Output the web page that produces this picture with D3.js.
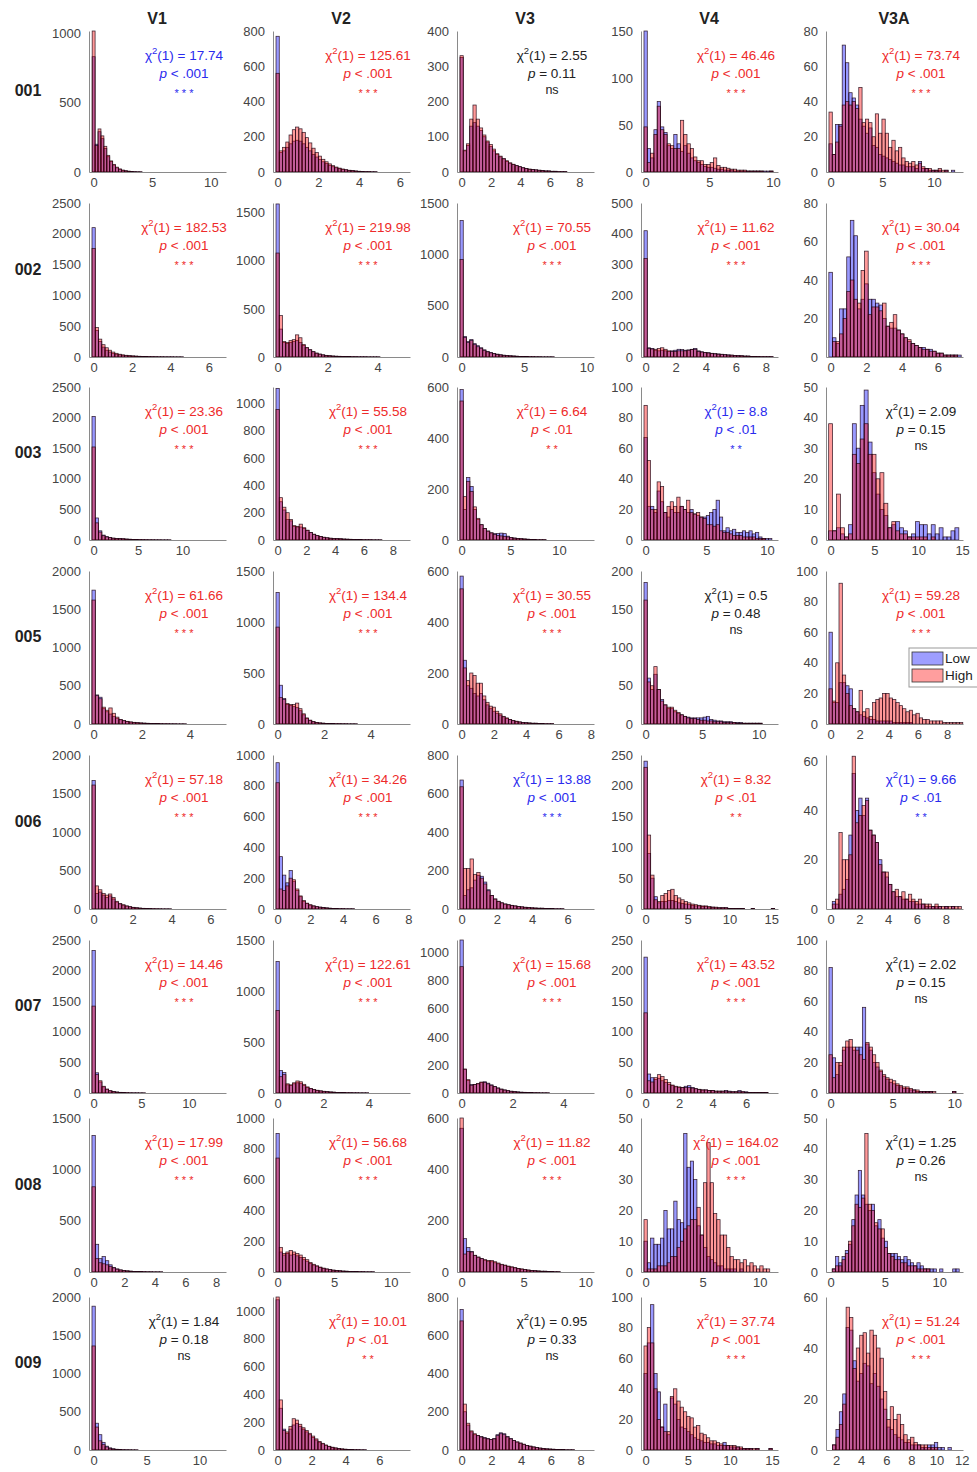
<!DOCTYPE html>
<html><head><meta charset="utf-8">
<script src="https://cdn.jsdelivr.net/npm/d3@7"></script>
<style>body{margin:0;background:#fff} text{font-family:"Liberation Sans",Arial,Helvetica,sans-serif}</style>
</head><body><svg id="c" width="977" height="1472"></svg>
<script>
const subjects = ["001","002","003","005","006","007","008","009"];
const regions = ["V1","V2","V3","V4","V3A"];

// histogram settings per subject (rows) x region (cols)
const binWidth = [
 [.25,.16,.22,.26,.32],[.17,.13,.26,.22,.2],[.37,.23,.34,.27,.45],[.14,.14,.2,.29,.23],
 [.17,.2,.19,.4,.23],[.35,.145,.13,.2,.27],[.22,.29,.27,.29,.3],[.31,.19,.22,.39,.27]];
const binStart = [
 [null,null,null,null,null],[null,null,null,null,null],[null,null,null,null,null],[null,null,null,null,null],
 [null,null,null,null,null],[null,null,null,null,null],[null,null,null,null,null],[null,null,null,null,1.72]];
const xMin = [
 [null,null,null,null,null],[null,null,null,null,null],[null,null,null,null,null],[null,null,null,null,null],
 [null,null,null,null,null],[null,null,null,null,null],[null,null,null,null,null],[null,null,null,null,1.2]];
const xMax = [
 [11.3,6.5,9.0,10.4,12.8],[6.9,5.3,10.6,8.8,7.4],[14.9,9.2,13.6,10.9,15.1],[5.5,5.7,8.2,11.7,9.1],
 [6.8,8.1,7.5,15.8,9.2],[13.9,5.8,5.2,7.9,10.7],[8.65,11.7,10.7,11.6,12.2],[12.5,7.8,8.9,15.7,12.1]];
const xStep = [[5,2,2,5,5],[2,2,5,2,2],[5,2,5,5,5],[2,2,2,5,2],[2,2,2,5,2],[5,2,2,2,5],[2,5,5,5,5],[5,2,2,5,2]];
const yMax = [
 [1015,800,400,150,80],[2500,1600,1500,500,80],[2500,1120,600,100,50],[2000,1500,600,200,100],
 [2000,1000,800,250,62.5],[2500,1500,1090,250,100],[1500,1000,600,50,50],[2000,1100,800,100,60]];
const yStep = [[500,200,100,50,20],[500,500,500,100,20],[500,200,200,20,10],[500,500,200,50,20],
 [500,200,200,50,20],[500,500,200,50,20],[500,200,200,10,10],[500,200,200,20,20]];

// statistics
const chi2 = [
 [17.74,125.61,2.55,46.46,73.74],[182.53,219.98,70.55,11.62,30.04],[23.36,55.58,6.64,8.8,2.09],
 [61.66,134.4,30.55,0.5,59.28],[57.18,34.26,13.88,8.32,9.66],[14.46,122.61,15.68,43.52,2.02],
 [17.99,56.68,11.82,164.02,1.25],[1.84,10.01,0.95,37.74,51.24]];
const pLabel = [
 ["< .001","< .001","= 0.11","< .001","< .001"],["< .001","< .001","< .001","< .001","< .001"],
 ["< .001","< .001","< .01","< .01","= 0.15"],["< .001","< .001","< .001","= 0.48","< .001"],
 ["< .001","< .001","< .001","< .01","< .01"],["< .001","< .001","< .001","< .001","= 0.15"],
 ["< .001","< .001","< .001","< .001","= 0.26"],["= 0.18","< .01","= 0.33","< .001","< .001"]];
const sigLabel = [
 ["***","***","ns","***","***"],["***","***","***","***","***"],["***","***","**","**","ns"],
 ["***","***","***","ns","***"],["***","***","***","**","**"],["***","***","***","***","ns"],
 ["***","***","***","***","ns"],["ns","**","ns","***","***"]];
// which condition dominates: L = Low, H = High, n = not significant
const direction = [
 ["L","H","n","H","H"],["H","H","H","H","H"],["H","H","H","L","n"],["H","H","H","n","H"],
 ["H","H","L","H","L"],["H","H","H","H","n"],["H","H","H","H","n"],["n","H","n","H","H"]];

// bin counts, Low condition
const low001 = [
 [830,200,290,240,170,110,75,50,30,20,12,8,5,3,2,1,1],
 [770,110,120,140,160,175,180,175,160,140,120,100,85,70,58,48,38,30,24,19,15,12,9,7,5,4,3,2,2,1,1],
 [325,60,75,130,140,130,118,100,85,72,60,50,43,37,30,25,21,18,15,12,10,8,7,6,5,4,3,3,2,2,1,1,1],
 [150,25,15,45,75,48,42,28,25,40,30,22,28,20,15,12,10,8,6,5,5,4,3,3,2,2,2,1,1,1,1,1,1,1,1,1,1,1,1],
 [16,10,27,27,72,62,45,42,38,30,26,22,25,15,14,10,9,8,7,6,5,4,4,3,3,3,2,6,2,2,1,1,1,1,0,1,0,1,0]];
const low002 = [
 [2100,430,250,160,110,80,60,45,35,28,22,18,15,12,10,8,7,6,5,4,3,3,2,2,2,1,1,1],
 [1590,290,150,140,150,160,170,150,120,95,75,55,40,30,22,17,13,10,8,7,6,5,4,3,3,2,2,2,1,1,1,1],
 [1330,200,150,170,130,110,90,70,55,45,35,28,22,18,15,12,10,8,6,5,4,3,3,2,2,1,1,1,1],
 [410,30,28,22,20,22,20,18,20,22,25,24,22,23,25,28,20,17,15,14,12,11,10,9,8,7,6,5,5,4,3,3,2,2,2,1,1,1,1],
 [44,10,7,25,25,52,71,63,25,30,38,30,30,28,27,20,16,15,15,14,12,10,8,7,6,5,5,4,4,3,2,2,1,1,1,1,1]];
const low003 = [
 [2020,360,150,80,55,40,30,25,25,20,15,12,10,8,6,5,4,3,3,2,2,1,1,1],
 [1110,280,220,150,140,100,95,95,85,70,55,42,32,25,20,16,13,11,10,9,7,6,5,4,3,3,2,2,2,1,1,1],
 [590,120,245,210,120,80,60,45,35,28,25,25,27,25,15,10,8,6,5,4,3,2,2,1,1,1],
 [67,22,22,18,32,25,18,15,20,18,18,22,20,18,20,17,16,15,15,16,18,20,26,15,6,8,6,7,5,5,6,5,6,4,5,2,1,1,1],
 [3,3,4,2,1,5,38,30,44,49,32,22,15,10,8,4,5,6,4,3,1,2,6,5,5,2,5,2,4,1,1,3,4]];
const low005 = [
 [1750,380,350,200,160,130,100,75,55,42,32,25,20,16,13,11,9,7,6,5,4,3,3,2,2,1,1,1],
 [1290,380,250,190,180,170,160,130,90,55,35,22,15,10,8,6,5,4,3,3,2,2,1,1,1],
 [580,250,150,140,120,110,120,95,75,60,50,42,35,28,22,17,13,10,8,6,5,4,3,3,2,2,1,1,1],
 [185,60,45,65,45,32,25,20,20,16,14,12,10,9,8,8,8,8,9,10,6,5,4,4,3,3,3,2,2,2,1,1,1,1,1,1],
 [60,14,14,27,27,25,23,10,8,6,5,4,3,3,2,2,2,2,2,1,1,1,1,1,1]];
const low006 = [
 [1670,200,220,180,150,170,130,90,65,50,38,28,20,15,11,8,6,4,3,2,2,1,1,1],
 [950,340,220,170,250,180,120,80,50,35,25,20,15,12,9,7,5,4,3,2,2,1,1,1],
 [670,70,100,110,150,175,170,140,100,70,52,40,32,26,22,19,16,13,11,9,8,6,5,4,4,3,2,2,1,1,1],
 [240,90,50,20,10,12,12,14,14,12,10,9,8,7,6,5,5,4,4,3,3,2,2,2,2,1,1,1,1,1,0,0,1,0,0,0,0,0,1],
 [0,3,2,6,8,12,30,55,40,45,38,45,32,30,27,20,15,13,10,7,5,5,4,4,3,3,2,2,2,1,1,1,1,1,0,1,0,1,0,0]];
const low007 = [
 [2330,330,180,100,60,35,22,15,10,7,5,3,2,2,1,1],
 [1290,220,200,80,75,90,100,95,75,55,42,32,25,20,16,13,10,8,6,5,4,3,3,2,2,1,1,1],
 [1090,170,90,60,60,65,75,80,70,58,46,36,28,22,17,13,10,8,6,5,4,3,2,2,1,1,1],
 [222,31,25,22,24,20,17,14,12,10,9,9,11,12,9,7,6,5,5,4,4,3,3,3,4,3,2,2,4,2,2,1,1,1,1,1,1],
 [82,23,12,18,28,30,30,28,30,30,56,32,28,20,17,14,11,9,7,6,5,4,3,3,2,2,1,1,1,1,1,0,0,0,0,0,0,1,0]];
const low008 = [
 [1330,270,130,150,110,70,45,30,20,15,11,8,6,5,4,3,2,2,1,1,1],
 [900,130,110,120,110,115,105,95,80,70,55,45,38,30,24,19,15,12,10,8,6,5,4,3,3,2,2,1,1,1],
 [560,130,95,80,65,58,52,46,42,40,36,32,28,25,22,19,16,13,11,9,7,6,5,4,3,3,2,2,1,1],
 [10,3,11,9,9,11,20,14,14,23,17,16,45,34,36,30,15,12,8,5,4,3,2,2,1,1,1,1,0,1],
 [0,1,5,3,5,7,9,17,25,33,25,22,20,22,15,17,11,10,6,6,6,5,4,5,4,3,2,3,2,1,1,1,1,0,1,0,0,0,1,1]];
const low009 = [
 [1880,350,200,100,50,28,16,10,6,4,3,2,1,1],
 [1080,300,150,120,150,180,190,170,150,130,110,90,72,56,44,34,26,19,14,10,7,5,4,3,2,2,1,1],
 [735,200,130,95,80,75,70,65,60,55,60,80,90,85,70,60,50,42,36,30,24,20,16,13,10,8,6,5,4,3,2,2,1,1,1],
 [50,70,95,50,38,15,30,10,34,30,20,15,14,12,10,8,7,6,5,5,4,4,3,3,5,3,2,2,2,1,1,1,1,0,1,0,0,0,1],
 [2,8,15,22,48,47,35,27,30,34,33,26,30,25,20,16,9,8,6,5,4,3,3,2,2,2,1,1,2,2,3,1,1,0,1,0,0,0,1]];

// bin counts, High condition
const high001 = [
 [1015,190,310,260,185,120,80,55,35,22,14,9,6,4,2,1,1],
 [560,120,140,170,210,240,255,245,225,195,165,135,110,90,72,58,46,36,28,22,17,13,10,8,6,4,3,2,2,1,1],
 [330,62,80,150,190,150,125,105,88,78,65,52,45,38,32,26,22,18,15,12,10,8,7,6,5,4,3,3,2,2,1,1,1],
 [48,10,20,40,70,45,40,30,28,25,25,55,40,30,25,16,12,12,8,8,10,15,7,5,5,4,3,3,2,2,2,1,1,1,1,1,0,0,1],
 [34,10,17,26,38,40,38,40,36,48,28,30,28,20,33,22,30,22,14,18,12,14,8,6,5,6,4,5,3,2,2,1,1,2,1,1,0,0,0]];
const high002 = [
 [1760,480,290,200,150,110,80,60,45,35,28,22,18,15,12,10,8,6,5,4,3,3,2,2,2,1,1,1],
 [1080,430,160,150,170,180,230,200,130,100,75,55,40,30,22,17,13,10,8,7,6,5,4,3,3,2,2,2,1,1,1,1],
 [950,190,140,160,120,100,85,65,50,40,32,25,20,16,13,11,9,7,6,5,4,3,3,2,2,1,1,1,1],
 [320,28,26,25,28,30,25,20,18,18,20,20,20,22,24,25,18,16,14,13,11,10,9,8,7,6,6,5,4,4,3,3,2,2,1,1,1,1,1],
 [0,8,8,12,20,34,40,30,28,45,55,22,26,26,24,28,16,18,22,14,12,10,9,7,6,5,4,4,3,3,2,2,1,1,1,1,0]];
const high003 = [
 [1520,280,130,70,50,38,30,25,22,20,15,12,10,8,6,5,4,3,3,2,2,1,1,1],
 [955,310,240,200,150,105,100,116,90,72,55,42,32,25,20,16,13,11,10,9,7,6,5,4,3,3,2,2,2,1,1,1],
 [545,170,230,190,130,85,60,45,35,28,22,18,16,14,12,9,7,6,5,4,3,2,2,1,1,1],
 [88,52,20,20,38,35,18,22,25,22,28,22,20,26,18,17,18,15,14,10,10,9,10,6,5,5,4,3,3,3,2,2,2,2,1,1,1,0,0],
 [38,3,15,4,1,2,28,25,33,38,28,28,20,22,12,4,6,3,2,2,1,1,1,1,1,0,1,0,0,0,0,0,0]];
const high005 = [
 [1620,370,330,220,180,210,140,90,60,45,35,27,22,17,14,11,9,7,6,5,4,3,3,2,2,1,1,1],
 [950,260,240,200,190,190,205,150,100,60,38,25,16,11,8,6,5,4,3,3,2,2,1,1,1],
 [530,220,170,200,190,160,160,110,85,70,66,50,40,30,24,18,14,11,8,6,5,4,3,3,2,2,1,1,1],
 [162,55,50,75,45,30,25,22,22,18,15,12,10,8,7,7,6,5,5,4,4,3,3,3,2,2,2,2,1,1,1,1,1,1,1,1],
 [23,15,40,92,32,20,12,10,8,22,8,10,5,14,16,17,20,20,17,16,14,12,10,8,9,6,7,4,3,3,2,2,2,2,1,1,1,1,1,1]];
const high006 = [
 [1610,300,250,200,180,195,150,100,72,55,40,30,22,16,12,9,7,5,4,3,2,1,1,1],
 [820,130,120,150,200,190,130,85,55,38,28,20,15,12,9,7,5,4,3,2,2,1,1,1],
 [635,210,210,260,180,190,160,130,95,70,52,40,32,26,22,19,16,13,11,9,8,6,5,4,4,3,2,2,1,1,1],
 [230,120,55,15,12,22,25,30,32,22,18,15,12,10,8,7,6,5,5,4,3,3,2,2,2,1,1,1,1,1,0,0,1,0,0,0,0,0,1],
 [0,2,4,31,20,20,22,62,35,38,42,44,32,30,27,18,15,15,10,7,8,5,7,4,6,4,3,4,2,2,2,1,2,1,1,1,1,1,1,1]];
const high007 = [
 [1420,300,200,110,65,38,24,16,11,7,5,3,2,2,1,1],
 [810,160,180,90,80,100,118,110,85,60,45,35,27,21,17,13,10,8,6,5,4,3,3,2,2,1,1,1],
 [900,170,95,55,60,68,78,75,65,55,45,35,27,21,16,12,9,7,5,4,3,3,2,2,1,1,1],
 [131,20,18,25,30,27,22,17,13,11,10,9,9,9,8,7,6,5,5,4,4,3,3,3,3,2,2,2,2,2,1,1,1,1,1,1,1],
 [25,10,20,20,30,34,35,30,28,25,22,33,30,25,20,15,12,10,9,8,6,5,4,4,3,2,2,1,1,1,1,1,0,0,0,0,0,1,0]];
const high008 = [
 [830,130,90,80,70,55,40,28,20,15,11,8,6,5,4,3,2,2,1,1,1],
 [740,160,120,130,140,130,120,110,95,80,62,50,40,32,25,20,16,12,10,8,6,5,4,3,3,2,2,1,1,1],
 [600,70,80,78,65,58,52,48,45,45,40,35,30,27,23,20,17,14,12,10,8,6,5,4,3,3,2,2,1,1],
 [17,1,1,1,2,2,2,3,5,5,8,10,14,15,17,17,21,12,29,42,29,19,17,12,12,8,5,4,4,3,4,2,3,2,1,2,1,1,0],
 [0,1,2,2,4,6,10,15,22,21,24,45,22,20,16,14,14,8,6,5,4,4,3,3,2,2,2,1,1,1,1]];
const high009 = [
 [1360,300,120,70,40,22,13,8,5,3,2,2,1,1],
 [1100,360,140,130,170,225,215,185,160,140,120,100,80,62,48,36,27,20,15,11,8,6,4,3,2,2,1,1],
 [675,240,140,100,85,75,68,62,58,55,58,75,85,80,68,58,50,42,36,30,24,20,16,13,10,8,6,5,4,3,2,2,1,1,1],
 [68,80,70,40,20,15,12,12,35,40,32,28,25,22,21,15,16,11,10,8,6,6,5,4,3,3,3,3,2,2,1,1,1,1,1,0,0,0,1],
 [2,5,10,18,56,52,32,40,45,46,38,47,45,40,36,23,12,17,12,14,10,6,4,5,3,2,2,2,1,1,1]];

const lowCounts = [low001, low002, low003, low005, low006, low007, low008, low009];
const highCounts = [high001, high002, high003, high005, high006, high007, high008, high009];

// ---------- layout ----------
const svg = d3.select("#c");
const colLeft = [89, 273, 457, 641, 826], plotW = 137;
const rowTop = [31, 203, 387, 571, 755, 940, 1118, 1297];
const rowBottom = [172, 357, 540, 724, 909, 1093, 1272, 1450];
const textColor = {L: "#2a2aee", H: "#ee2a2a", n: "#222"};
const tickColor = "#444";

regions.forEach((r, j) => {
  svg.append("text").attr("x", colLeft[j] + 68).attr("y", 24)
    .attr("text-anchor", "middle").attr("font-weight", "bold").attr("font-size", 16)
    .attr("fill", "#222").text(r);
});

subjects.forEach((s, i) => {
  const top = rowTop[i], bottom = rowBottom[i];
  svg.append("text").attr("x", 28).attr("y", (top + bottom) / 2 - 5.5)
    .attr("text-anchor", "middle").attr("font-weight", "bold").attr("font-size", 16)
    .attr("fill", "#222").text(s);

  regions.forEach((r, j) => {
    const left = colLeft[j];
    const bw = binWidth[i][j];
    const hi = xMax[i][j];
    const lo = xMin[i][j] != null ? xMin[i][j] : -0.035 * hi;
    const start = binStart[i][j] != null ? binStart[i][j] : -bw / 2;
    const x = d3.scaleLinear().domain([lo, hi]).range([left, left + plotW]);
    const y = d3.scaleLinear().domain([0, yMax[i][j]]).range([bottom, top]).clamp(true);
    const g = svg.append("g");

    const drawSeries = (counts, color) => {
      g.append("g").selectAll("rect")
        .data(counts.map((c, k) => ({c, x0: start + k * bw})).filter(d => d.c > 0 && d.x0 + bw <= hi + 1e-9))
        .join("rect")
        .attr("x", d => x(d.x0))
        .attr("width", d => x(d.x0 + bw) - x(d.x0))
        .attr("y", d => y(d.c))
        .attr("height", d => bottom - y(d.c))
        .attr("fill", color).attr("fill-opacity", 0.4)
        .attr("stroke", "#1a0010").attr("stroke-opacity", 0.85).attr("stroke-width", 0.75);
    };
    drawSeries(lowCounts[i][j], "#0000ff");
    drawSeries(highCounts[i][j], "#ff0000");

    const yt = d3.range(0, yMax[i][j] + 1e-9, yStep[i][j]);
    const ya = g.append("g").attr("transform", `translate(${left},0)`)
      .call(d3.axisLeft(y).tickValues(yt).tickFormat(d => String(d)).tickSize(0).tickPadding(8));
    const xs = xStep[i][j];
    const xt = d3.range(Math.ceil(lo / xs) * xs, hi + 1e-9, xs);
    const xa = g.append("g").attr("transform", `translate(0,${bottom})`)
      .call(d3.axisBottom(x).tickValues(xt).tickFormat(d => String(d)).tickSize(0).tickPadding(6));
    [ya, xa].forEach(a => {
      a.select(".domain").attr("stroke", "#8a8a8a").attr("stroke-width", 1);
      a.selectAll("text").attr("font-size", 13).attr("fill", tickColor)
        .attr("font-family", '"Liberation Sans",Arial,sans-serif');
    });

    // statistics annotation
    const cx = left + 95;
    const col = textColor[direction[i][j]];
    const t1 = g.append("text").attr("x", cx).attr("y", top + 29).attr("text-anchor", "middle")
      .attr("font-size", 13.5).attr("fill", col);
    t1.append("tspan").text("\u03C7");
    t1.append("tspan").attr("dy", -6).attr("font-size", 9.5).text("2");
    t1.append("tspan").attr("dy", 6).text("(1) = " + chi2[i][j]);
    const t2 = g.append("text").attr("x", cx).attr("y", top + 47).attr("text-anchor", "middle")
      .attr("font-size", 13.5).attr("fill", col);
    t2.append("tspan").attr("font-style", "italic").text("p");
    t2.append("tspan").text(" " + pLabel[i][j]);
    g.append("text").attr("x", cx).attr("y", sigLabel[i][j] === "ns" ? top + 63 : top + 66)
      .attr("text-anchor", "middle").attr("font-size", sigLabel[i][j] === "ns" ? 12.5 : 11)
      .attr("fill", col)
      .text(sigLabel[i][j] === "ns" ? "ns" : sigLabel[i][j].split("").join(" "));

    // legend
    if (s === "005" && r === "V3A") {
      const lg = svg.append("g");
      lg.append("rect").attr("x", 909).attr("y", 648).attr("width", 72).attr("height", 39)
        .attr("fill", "#fff").attr("stroke", "#999");
      [["Low", "#0000ff", 652], ["High", "#ff0000", 669]].forEach(([lab, c, yy]) => {
        lg.append("rect").attr("x", 912).attr("y", yy).attr("width", 31).attr("height", 13)
          .attr("fill", c).attr("fill-opacity", 0.38).attr("stroke", "#333").attr("stroke-width", 0.8);
        lg.append("text").attr("x", 945).attr("y", yy + 11).attr("font-size", 13.5)
          .attr("fill", "#222").text(lab);
      });
    }
  });
});
</script></body></html>
